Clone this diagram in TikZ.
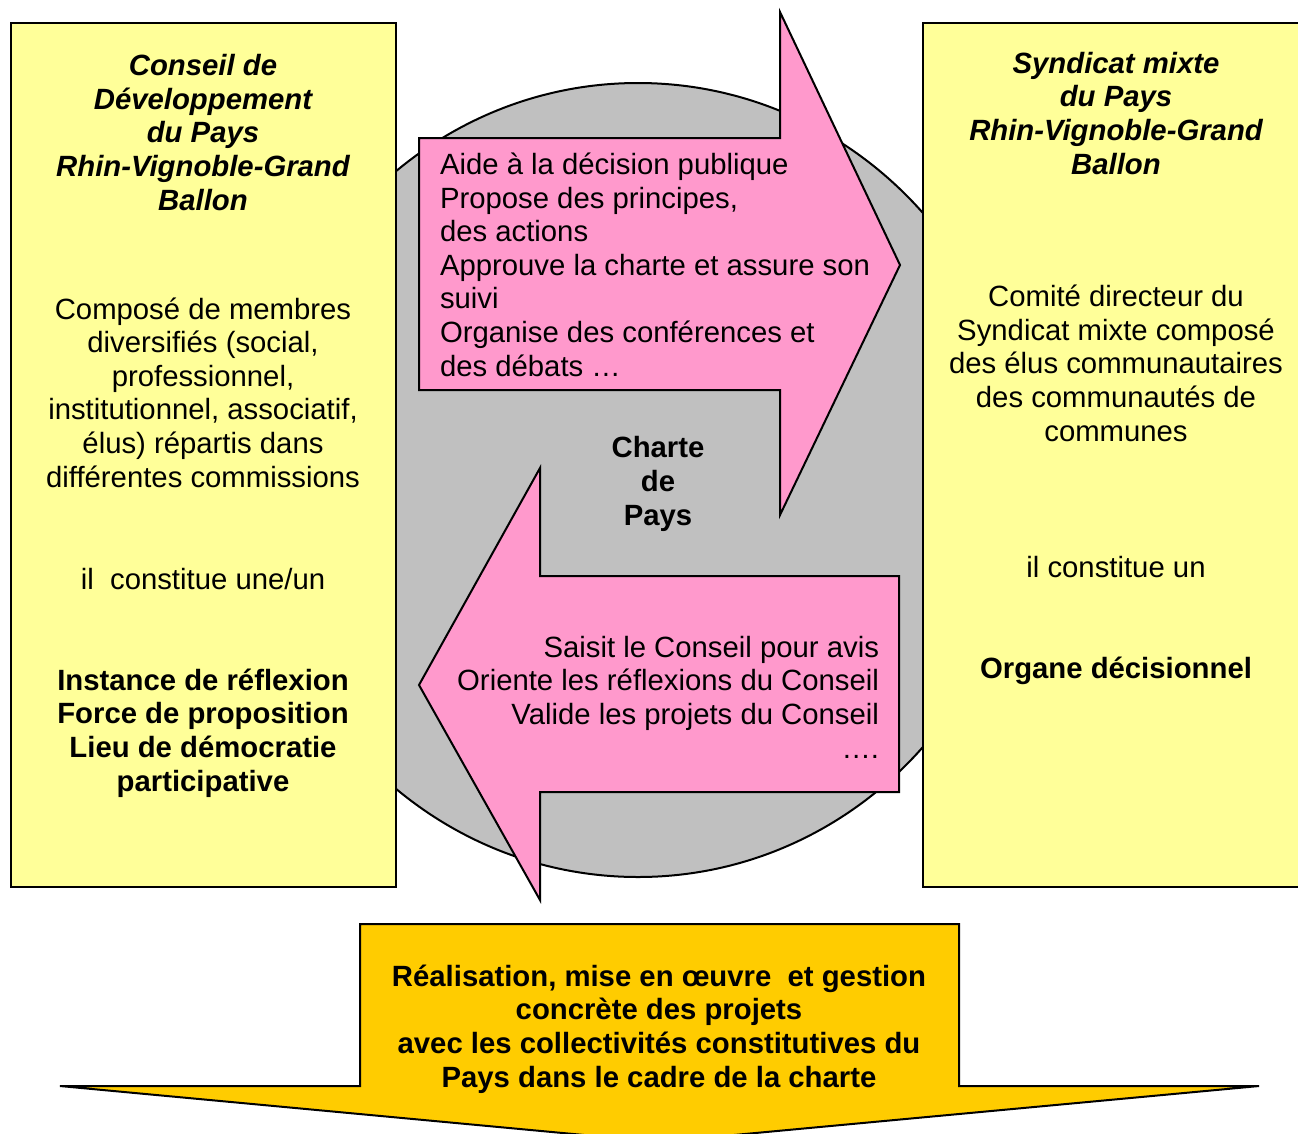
\documentclass[tikz,border=0pt]{standalone}
\usepackage{fontspec}
\setmainfont{Liberation Sans}
\definecolor{boxyellow}{HTML}{FFFF99}
\definecolor{arrowpink}{HTML}{FF99CC}
\definecolor{circgray}{HTML}{C0C0C0}
\definecolor{goldfill}{HTML}{FFCC00}
\newcommand{\bodyfnt}{\fontsize{29.3}{33.6}\selectfont}
\begin{document}
\begin{tikzpicture}[x=1pt,y=-1pt,
  txt/.style={font=\bodyfnt, inner sep=0pt, outer sep=0pt, anchor=base, align=center},
  bld/.style={txt, font=\bodyfnt\bfseries},
  bit/.style={txt, font=\bodyfnt\bfseries\itshape},
  shp/.style={draw=black, line width=2pt, line join=miter}]
\useasboundingbox (0,0) rectangle (1298,1133);
\clip (0,0) rectangle (1298,1133);
% central disc
\path[shp, fill=circgray] (638,480) ellipse [x radius=385pt, y radius=397pt];
% side boxes
\path[shp, line width=2.5pt, fill=boxyellow] (11,23) rectangle (396,887);
\path[shp, line width=2.5pt, fill=boxyellow] (923,23) rectangle (1320,887);
% arrows
\path[shp, fill=arrowpink] (419,138) -- (780,138) -- (780,12) -- (900,265) -- (780,515) -- (780,390) -- (419,390) -- cycle;
\path[shp, fill=arrowpink] (899,576) -- (540,576) -- (540,468) -- (419,685) -- (540,900) -- (540,792) -- (899,792) -- cycle;
\path[shp, fill=goldfill] (360,924) -- (959,924) -- (959,1086) -- (1259,1086) -- (659,1142) -- (60,1086) -- (360,1086) -- cycle;
% left box texts (anchor = baseline of last line)
\node[bit] (ltitle) at (203,210) {Conseil de\\Développement\\du Pays\\Rhin-Vignoble-Grand\\Ballon};
\node[txt] (lbody) at (203,487) {Composé de membres\\diversifiés (social,\\professionnel,\\institutionnel, associatif,\\élus) répartis dans\\différentes commissions};
\node[txt] (lconst) at (203,589) {il\ \ constitue une/un};
\node[bld] (lrole) at (203,791) {Instance de réflexion\\Force de proposition\\Lieu de démocratie\\participative};
% right box texts
\node[bit] (rtitle) at (1116,174) {Syndicat mixte\\du Pays\\Rhin-Vignoble-Grand\\Ballon};
\node[txt] (rbody) at (1116,441) {Comité directeur du\\Syndicat mixte composé\\des élus communautaires\\des communautés de\\communes};
\node[txt] (rconst) at (1116,577) {il constitue un};
\node[bld] (rrole) at (1116,678) {Organe décisionnel};
% centre
\node[bld] (charte) at (658,525) {Charte\\de\\Pays};
% arrow texts
\node[txt, align=left, anchor=base west] (atop) at (440,376) {Aide à la décision publique\\Propose des principes,\\des actions\\Approuve la charte et assure son\\suivi\\Organise des conférences et\\des débats …};
\node[txt, align=right, anchor=base east] (abot) at (879,758) {Saisit le Conseil pour avis\\Oriente les réflexions du Conseil\\Valide les projets du Conseil\\….};
% bottom
\node[bld] (real) at (659,1087) {Réalisation, mise en œuvre\ \ et gestion\\concrète des projets\\avec les collectivités constitutives du\\Pays dans le cadre de la charte};
\end{tikzpicture}
\end{document}
